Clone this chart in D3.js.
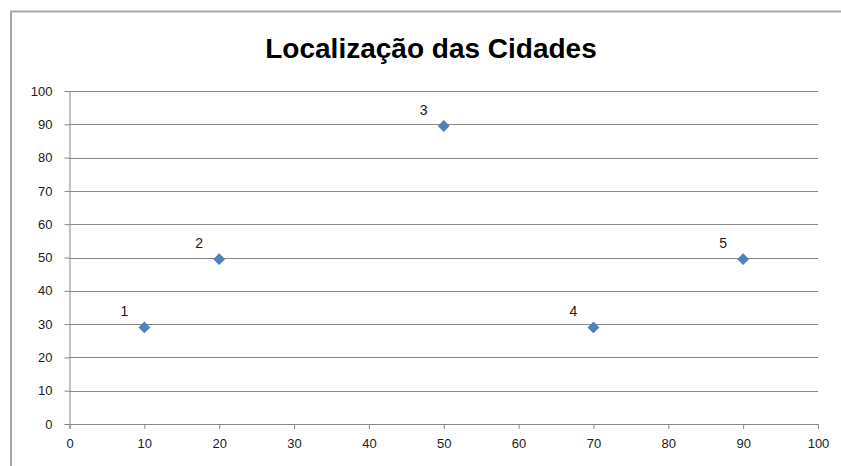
<!DOCTYPE html>
<html>
<head>
<meta charset="utf-8">
<script src="https://cdn.jsdelivr.net/npm/d3@7"></script>
<style>
  body { margin: 0; background: #fff; }
  svg text { font-family: "Liberation Sans", Arial, sans-serif; }
  .axis path, .axis line { stroke: #878787; }
  .axis text { fill: #1a1a1a; font-size: 13px; }
</style>
</head>
<body>
<div id="chart"></div>
<script>
// city coordinates
const cityLabels = ["1", "2", "3", "4", "5"];
const cityX = [10, 20, 50, 70, 90];
const cityY = [29, 49.5, 89.5, 29, 49.5];
const xTicks = [0, 10, 20, 30, 40, 50, 60, 70, 80, 90, 100];
const yTicks = [0, 10, 20, 30, 40, 50, 60, 70, 80, 90, 100];
const chartTitle = "Localização das Cidades";

const W = 841, H = 466;
const margin = { top: 91, right: 23, bottom: 42, left: 69.5 };
const width = W - margin.left - margin.right;
const height = H - margin.top - margin.bottom;

const svg = d3.select("#chart").append("svg")
  .attr("width", W)
  .attr("height", H);

// outer chart frame (runs off the right and bottom edges)
svg.append("path")
  .attr("d", `M11,${H + 5} V11.5 H${W + 5}`)
  .attr("fill", "none")
  .attr("stroke", "#a6a6a6")
  .attr("stroke-width", 2);

svg.append("text")
  .attr("x", 431)
  .attr("y", 58)
  .attr("text-anchor", "middle")
  .attr("font-size", 28)
  .attr("font-weight", "bold")
  .attr("fill", "#000")
  .text(chartTitle);

const g = svg.append("g")
  .attr("transform", `translate(${margin.left},${margin.top})`);

const x = d3.scaleLinear().domain([0, 100]).range([0, width]);
const y = d3.scaleLinear().domain([0, 100]).range([height, 0]);

// horizontal gridlines
g.append("g")
  .selectAll("line")
  .data(yTicks)
  .enter()
  .append("line")
  .attr("x1", 0)
  .attr("x2", width)
  .attr("y1", d => Math.round(y(d)) + 0.5)
  .attr("y2", d => Math.round(y(d)) + 0.5)
  .attr("stroke", "#878787");

const xAxis = g.append("g")
  .attr("class", "axis")
  .attr("transform", `translate(0,${height})`)
  .call(d3.axisBottom(x).tickValues(xTicks).tickSize(5).tickPadding(10).tickSizeOuter(5));

const yAxis = g.append("g")
  .attr("class", "axis")
  .call(d3.axisLeft(y).tickValues(yTicks).tickSize(5).tickPadding(12).tickSizeOuter(0));
yAxis.select(".domain").attr("d", `M0.5,0V${height}`);

// markers
const pts = cityX.map((v, i) => ({ x: v, y: cityY[i], label: cityLabels[i] }));

g.append("g")
  .selectAll("path")
  .data(pts)
  .enter()
  .append("path")
  .attr("d", d3.symbol(d3.symbolSquare).size(70))
  .attr("transform", d => `translate(${x(d.x)},${y(d.y)}) rotate(45)`)
  .attr("fill", "#4f81bd");

g.append("g")
  .selectAll("text")
  .data(pts)
  .enter()
  .append("text")
  .attr("x", d => x(d.x) - 20)
  .attr("y", d => y(d.y) - 11)
  .attr("text-anchor", "middle")
  .attr("font-size", 14)
  .attr("fill", "#1a1a1a")
  .text(d => d.label);
</script>
</body>
</html>
